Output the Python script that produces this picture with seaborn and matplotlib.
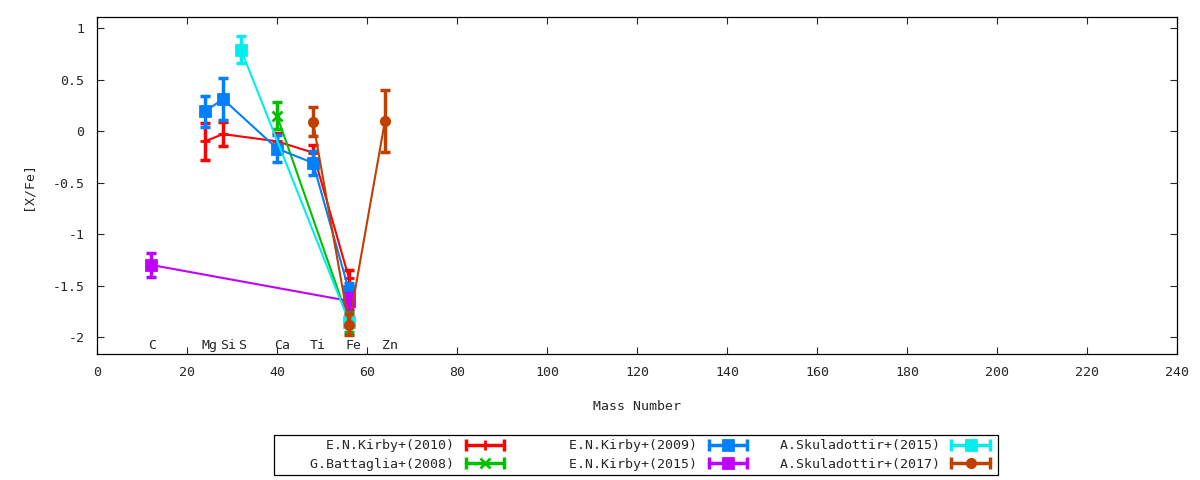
import seaborn as sns
import numpy as np
import pandas as pd
import matplotlib.pyplot as plt
from matplotlib.lines import Line2D
from matplotlib.legend_handler import HandlerLine2D, HandlerTuple

sns.set_style("ticks")
plt.rcParams['font.family'] = ['DejaVu Sans Mono', 'DejaVu Sans']

# element labels along the bottom
elements = ['C', 'Mg', 'Si', 'S', 'Ca', 'Ti', 'Fe', 'Zn']
element_mass = [12, 24, 28, 32, 40, 48, 56, 64]

# one set of arrays per paper
kirby2010_mass = [24, 28, 40, 48, 56]
kirby2010_xfe = [-0.10, -0.03, -0.10, -0.21, -1.43]
kirby2010_err = [0.18, 0.12, 0.08, 0.07, 0.08]

battaglia2008_mass = [40, 56]
battaglia2008_xfe = [0.15, -1.85]
battaglia2008_err = [0.13, 0.10]

kirby2009_mass = [24, 28, 40, 48, 56]
kirby2009_xfe = [0.19, 0.31, -0.17, -0.31, -1.55]
kirby2009_err = [0.15, 0.20, 0.13, 0.12, 0.07]

kirby2015_mass = [12, 56]
kirby2015_xfe = [-1.30, -1.65]
kirby2015_err = [0.12, 0.08]

skul2015_mass = [32, 56]
skul2015_xfe = [0.79, -1.85]
skul2015_err = [0.13, 0.05]

skul2017_mass = [48, 56, 64]
skul2017_xfe = [0.09, -1.88, 0.10]
skul2017_err = [0.14, 0.10, 0.30]

series = [
    ('E.N.Kirby+(2010)', kirby2010_mass, kirby2010_xfe, kirby2010_err),
    ('G.Battaglia+(2008)', battaglia2008_mass, battaglia2008_xfe, battaglia2008_err),
    ('E.N.Kirby+(2009)', kirby2009_mass, kirby2009_xfe, kirby2009_err),
    ('E.N.Kirby+(2015)', kirby2015_mass, kirby2015_xfe, kirby2015_err),
    ('A.Skuladottir+(2015)', skul2015_mass, skul2015_xfe, skul2015_err),
    ('A.Skuladottir+(2017)', skul2017_mass, skul2017_xfe, skul2017_err),
]
colors = ['#ff0000', '#00c000', '#0080ff', '#c000ff', '#00eeee', '#c04000']
markers = ['+', 'x', 's', 's', 's', 'o']
msizes = [7, 7, 7, 7, 7, 6]
fs = 9.5

rows = []
for name, m, v, e in series:
    for a, b, c in zip(m, v, e):
        rows.append({'mass': a, 'xfe': b, 'err': c, 'ref': name})
df = pd.DataFrame(rows)

fig = plt.figure(figsize=(12, 4.8), dpi=100)
ax = fig.add_axes([97 / 1200, 1 - 354 / 480, 1080 / 1200, 337 / 480])

handles = []
hmap = {}
for i, (name, m, v, e) in enumerate(series):
    sub = df[df['ref'] == name]
    sns.lineplot(data=sub, x='mass', y='xfe', color=colors[i], lw=1.5,
                 marker=markers[i], markersize=msizes[i], mew=2,
                 markeredgecolor=colors[i], ax=ax, zorder=2 + i, legend=False)
    ax.errorbar(sub['mass'], sub['xfe'], yerr=sub['err'], fmt='none',
                ecolor=colors[i], elinewidth=2.5, capsize=3.5, capthick=2.5,
                zorder=2 + i)
    caps = Line2D([], [], color=colors[i], lw=2.5, marker='|', ms=9, mew=2.5)
    mid = Line2D([], [], color=colors[i], ls='none', marker=markers[i],
                 ms=msizes[i], mew=2)
    hmap[caps] = HandlerLine2D(numpoints=2)
    hmap[mid] = HandlerLine2D(numpoints=1)
    handles.append((caps, mid))

for el, ms in zip(elements, element_mass):
    ax.text(ms - 0.7, -2.08, el, ha='left', va='center', fontsize=fs)

ax.set_xlim(0, 240)
ax.set_ylim(-2.165, 1.107)
ax.set_xticks(np.arange(0, 241, 20))
ax.set_yticks([-2, -1.5, -1, -0.5, 0, 0.5, 1])
ax.set_yticklabels(['-2', '-1.5', '-1', '-0.5', '0', '0.5', '1'])
ax.tick_params(direction='in', length=5, top=True, right=True, labelsize=fs,
               width=0.8, pad=9)
for sp in ax.spines.values():
    sp.set_linewidth(0.9)
    sp.set_color('black')
ax.set_xlabel('Mass Number', fontsize=fs, labelpad=15)
ax.set_ylabel('[X/Fe]', fontsize=fs, labelpad=13)

# gnuplot-like key: labels right aligned to equal width
labels = [s[0].rjust(22) for s in series]
hmap[tuple] = HandlerTuple(ndivide=1, pad=0)
leg = fig.legend(handles, labels, handler_map=hmap, ncol=3,
                 markerfirst=False, loc='center', bbox_to_anchor=(636 / 1200, 1 - 455 / 480),
                 frameon=True, fancybox=False, edgecolor='black', framealpha=1,
                 fontsize=fs, handlelength=3.5, columnspacing=0.95,
                 borderpad=0.3, labelspacing=0.4, handletextpad=0.6)
leg.get_frame().set_linewidth(0.9)

fig.savefig('out.png', dpi=100)
